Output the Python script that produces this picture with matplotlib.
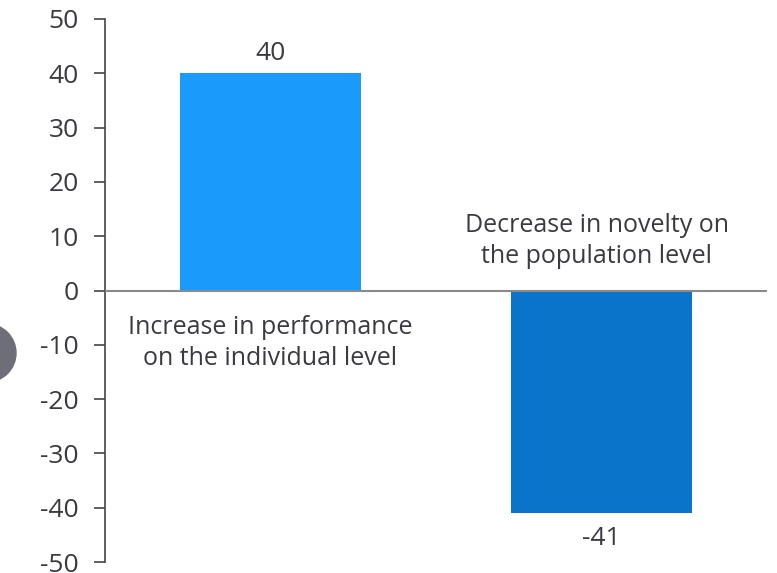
import matplotlib
matplotlib.use("Agg")
import matplotlib.pyplot as plt
from matplotlib.patches import Ellipse

categories = ["Increase in performance\non the individual level",
              "Decrease in novelty on\nthe population level"]
values = [40, -41]
value_labels = ["40", "-41"]
colors = ["#1a9afa", "#0a74cb"]
yticks = list(range(-50, 51, 10))

plt.rcParams['font.family'] = ['Open Sans', 'DejaVu Sans']
text_color = "#3a3a42"

fig = plt.figure(figsize=(7.77, 5.73), dpi=100)
ax = fig.add_axes([105/777, 1 - 562/573, (767 - 105)/777, (562 - 19)/573])

x = list(range(len(values)))
ax.bar(x, values, width=0.545, color=colors, zorder=2)
ax.set_xlim(-0.5, 1.5)
ax.set_ylim(-50, 50)
ax.set_yticks(yticks)
ax.set_yticklabels([str(t) for t in yticks], fontsize=19, color=text_color)
ax.tick_params(axis='y', direction='out', length=8, width=1.2, color="#444444", pad=11)
ax.set_xticks([])
for s in ["top", "right", "bottom"]:
    ax.spines[s].set_visible(False)
ax.spines["left"].set_color("#444444")
ax.spines["left"].set_linewidth(1.2)
ax.axhline(0, color="#8a8a8a", lw=1.5, zorder=3, xmin=0, xmax=1.0)

# value labels
ax.text(x[0], values[0] + 1.3, value_labels[0], ha="center", va="bottom",
        fontsize=19, color=text_color)
ax.text(x[1], values[1] - 2.4, value_labels[1], ha="center", va="top",
        fontsize=19, color=text_color)
# category labels
ax.text(x[0], -4.6, categories[0], ha="center", va="top", fontsize=18,
        color=text_color, linespacing=1.3)
ax.text(x[1] - 0.015, 4.0, categories[1], ha="center", va="bottom", fontsize=18,
        color=text_color, linespacing=1.3)

# gray circle partly outside the left edge
r = 29
fig.add_artist(Ellipse((-13/777, 1 - 353/573), 2*r/777, 2*r/573,
                       transform=fig.transFigure, color="#6e6e78", clip_on=False))

fig.savefig("out.png", dpi=100)
